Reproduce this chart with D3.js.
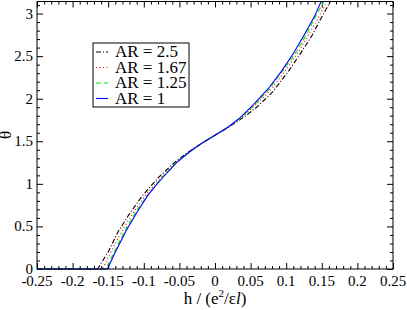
<!DOCTYPE html>
<html><head><meta charset="utf-8">
<script src="https://cdn.jsdelivr.net/npm/d3@7"></script>
<style>body{margin:0;background:#fff}</style>
</head><body><svg id="c" width="407" height="310"></svg>
<script>
const seriesNames = ["AR = 2.5","AR = 1.67","AR = 1.25","AR = 1"];
const colors = ["#000000","#ff0000","#00ee00","#0000ff"];
const dashes = ["5,2,1,2","1,2.5","5,3",null];
// h values and theta values per series
const hAR25 = [-0.25,-0.165,-0.15,-0.136,-0.12,-0.103,-0.08,-0.0585,-0.04,-0.02,0,0.02,0.04,0.0585,0.08,0.103,0.12,0.136,0.15,0.162,0.25];
const tAR25 = [0,0,0.2,0.44,0.65,0.85,1.07,1.24,1.36,1.47,1.5708,1.67,1.78,1.9,2.07,2.32,2.53,2.74,2.96,3.1416,3.1416];
const hAR167 = [-0.25,-0.158,-0.145,-0.13,-0.115,-0.098,-0.078,-0.056,-0.037,-0.019,0,0.019,0.037,0.056,0.078,0.098,0.115,0.13,0.145,0.157,0.25];
const tAR167 = [0,0,0.22,0.46,0.66,0.86,1.06,1.24,1.37,1.475,1.5708,1.667,1.775,1.92,2.1,2.32,2.52,2.73,2.95,3.1416,3.1416];
const hAR125 = [-0.25,-0.153,-0.141,-0.126,-0.112,-0.095,-0.076,-0.055,-0.036,-0.018,0,0.018,0.036,0.055,0.076,0.095,0.112,0.126,0.141,0.153,0.25];
const tAR125 = [0,0,0.21,0.46,0.66,0.86,1.06,1.245,1.375,1.48,1.5708,1.665,1.775,1.925,2.11,2.33,2.52,2.72,2.96,3.1416,3.1416];
const hAR1 = [-0.25,-0.151,-0.14,-0.124,-0.11,-0.094,-0.075,-0.054,-0.035,-0.018,0,0.018,0.035,0.054,0.075,0.094,0.11,0.124,0.14,0.149,0.25];
const tAR1 = [0,0,0.2,0.46,0.66,0.87,1.06,1.25,1.38,1.48,1.5708,1.665,1.775,1.93,2.12,2.33,2.53,2.73,2.97,3.1416,3.1416];
const xTicks = [-0.25,-0.2,-0.15,-0.1,-0.05,0,0.05,0.1,0.15,0.2,0.25];
const xTickLabels = ["-0.25","-0.2","-0.15","-0.1","-0.05","0","0.05","0.1","0.15","0.2","0.25"];
const yTicks = [0,0.5,1,1.5,2,2.5,3];
const yTickLabels = ["0","0.5","1","1.5","2","2.5","3"];

const allH = [hAR25,hAR167,hAR125,hAR1];
const allT = [tAR25,tAR167,tAR125,tAR1];
const FF = "Liberation Serif";

const L=37,R=393,T=1.5,B=269;
const svg=d3.select("#c");
const x=d3.scaleLinear().domain([-0.25,0.25]).range([L,R]);
const y=d3.scaleLinear().domain([0,Math.PI]).range([B,T]);

const xMinor=d3.range(-25,26).map(d=>d/100).filter(v=>!xTicks.some(t=>Math.abs(t-v)<1e-9));
const yMinor=d3.range(0,32).map(d=>d/10).filter(v=>!yTicks.some(t=>Math.abs(t-v)<1e-9));

function axisGroup(axisFn, scale, ticks, size, tr){
  const a=axisFn(scale).tickValues(ticks).tickSizeInner(size).tickSizeOuter(0).tickFormat("");
  const g=svg.append("g").attr("transform",tr).call(a);
  g.select(".domain").remove();
  g.selectAll("line").attr("stroke","#000");
  return g;
}
axisGroup(d3.axisTop,x,xTicks,6,`translate(0,${B})`);
axisGroup(d3.axisTop,x,xMinor,3,`translate(0,${B})`);
axisGroup(d3.axisBottom,x,xTicks,6,`translate(0,${T})`);
axisGroup(d3.axisBottom,x,xMinor,3,`translate(0,${T})`);
axisGroup(d3.axisRight,y,yTicks,6,`translate(${L},0)`);
axisGroup(d3.axisRight,y,yMinor,3,`translate(${L},0)`);
axisGroup(d3.axisLeft,y,yTicks,6,`translate(${R},0)`);
axisGroup(d3.axisLeft,y,yMinor,3,`translate(${R},0)`);

svg.append("g").selectAll("text").data(xTicks).join("text")
  .attr("x",d=>x(d)).attr("y",B+17).attr("text-anchor","middle")
  .attr("font-family",FF).attr("font-size",15).text((d,i)=>xTickLabels[i]);
svg.append("g").selectAll("text").data(yTicks).join("text")
  .attr("x",L-4).attr("y",d=>y(d)+5).attr("text-anchor","end")
  .attr("font-family",FF).attr("font-size",15).text((d,i)=>yTickLabels[i]);

const line=d3.line().x(d=>x(d[0])).y(d=>y(d[1]));
allH.forEach((hs,i)=>{
  const pts=hs.map((h,j)=>[h,allT[i][j]]);
  svg.append("path").attr("d",line(pts)).attr("fill","none")
    .attr("stroke",colors[i]).attr("stroke-width",1.1)
    .attr("stroke-dasharray",dashes[i]);
});

svg.append("rect").attr("x",L).attr("y",T).attr("width",R-L).attr("height",B-T)
  .attr("fill","none").attr("stroke","#000").attr("stroke-width",1);

const xt=svg.append("text").attr("x",215).attr("y",304).attr("text-anchor","middle")
  .attr("font-family",FF).attr("font-size",17);
xt.append("tspan").text("h / (e");
xt.append("tspan").attr("dy",-7).attr("font-size",11).text("2");
xt.append("tspan").attr("dy",7).text("/ε");
xt.append("tspan").attr("font-style","italic").text("l");
xt.append("tspan").text(")");
svg.append("text").attr("transform","translate(11,135) rotate(-90)").attr("text-anchor","middle")
  .attr("font-family",FF).attr("font-size",17).text("θ");

const lg=svg.append("g");
lg.append("rect").attr("x",93).attr("y",43).attr("width",96).attr("height",64)
  .attr("fill","#fff").attr("stroke","#000").attr("stroke-width",1);
seriesNames.forEach((n,i)=>{
  const by=57+i*15.5;
  lg.append("line").attr("x1",96).attr("x2",108).attr("y1",by-5).attr("y2",by-5)
    .attr("stroke",colors[i]).attr("stroke-width",1.1).attr("stroke-dasharray",dashes[i]);
  lg.append("text").attr("x",115).attr("y",by).attr("font-family",FF).attr("font-size",17).text(n);
});
</script></body></html>
